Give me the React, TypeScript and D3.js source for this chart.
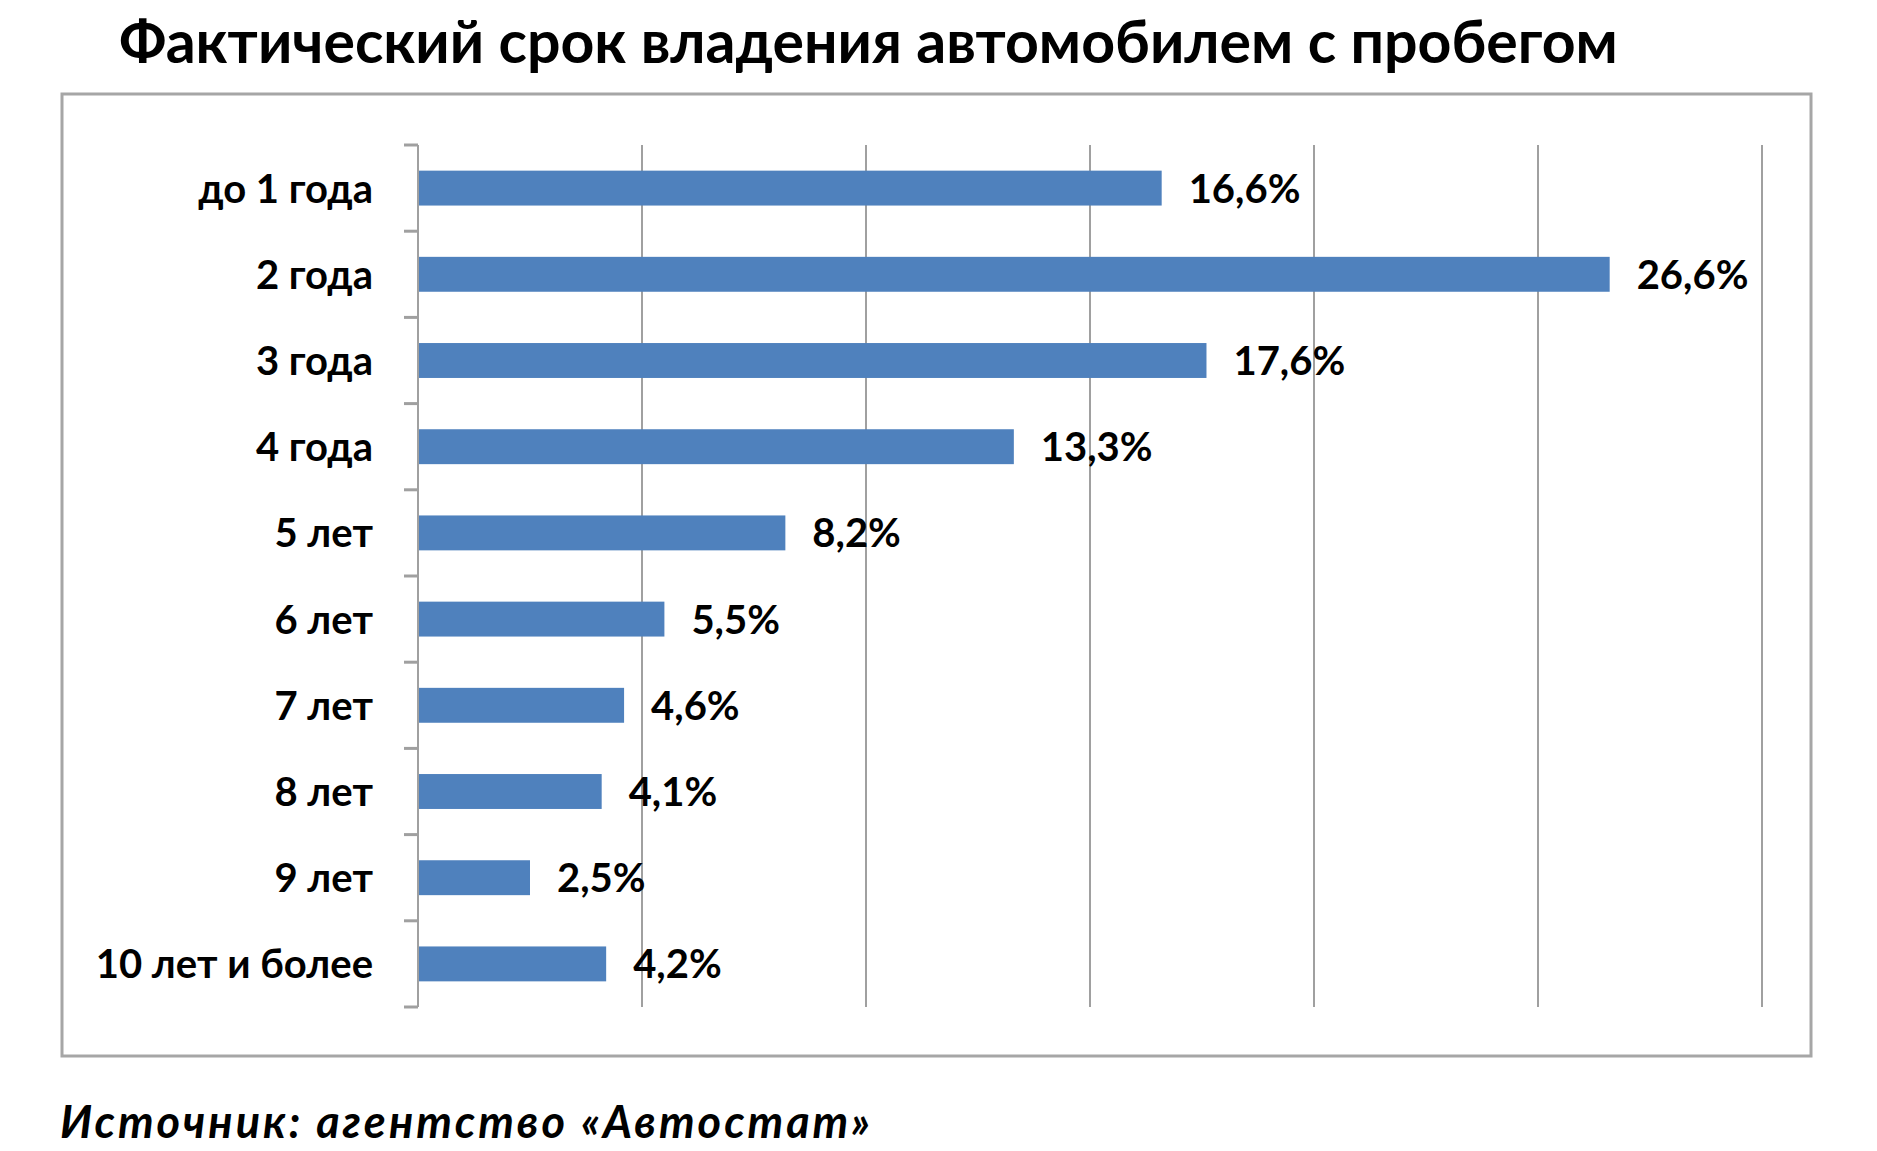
import React, { useEffect, useRef } from 'react';
import { select, scaleLinear, scaleBand, range } from 'd3';

const width = 1877;
const height = 1151;

const title = 'Фактический срок владения автомобилем с пробегом';
const source = 'Источник: агентство «Автостат»';
const categories = [
	'до 1 года',
	'2 года',
	'3 года',
	'4 года',
	'5 лет',
	'6 лет',
	'7 лет',
	'8 лет',
	'9 лет',
	'10 лет и более',
];
const values = [16.6, 26.6, 17.6, 13.3, 8.2, 5.5, 4.6, 4.1, 2.5, 4.2];
const gridTicks = [5, 10, 15, 20, 25, 30];

const font = "Lato, 'Open Sans', sans-serif";
const barColor = '#4F81BD';
const gridColor = '#A0A0A0';

const plot = { left: 418, right: 1762, top: 145, bottom: 1007 };

const fmt = (v: number) => v.toFixed(1).replace('.', ',') + '%';

const App = () => {
	const ref = useRef<SVGSVGElement>(null);

	useEffect(() => {
		if (!ref.current) return;
		const svg = select(ref.current);
		svg.selectAll('*').remove();

		const x = scaleLinear().domain([0, 30]).range([plot.left, plot.right]);
		const y = scaleBand<string>()
			.domain(categories)
			.range([plot.top, plot.bottom])
			.paddingInner(0.595)
			.paddingOuter(0.2975);
		const step = y.step();

		svg.append('rect')
			.attr('width', width)
			.attr('height', height)
			.attr('fill', '#fff');

		// title
		svg.append('text')
			.attr('x', 119)
			.attr('y', 63)
			.attr('font-family', font)
			.attr('font-weight', 700)
			.attr('font-size', 59)
			.attr('fill', '#000')
			.text(title);

		// frame
		svg.append('rect')
			.attr('x', 62)
			.attr('y', 94)
			.attr('width', 1811 - 62)
			.attr('height', 1056 - 94)
			.attr('fill', 'none')
			.attr('stroke', '#A6A6A6')
			.attr('stroke-width', 3);

		// vertical gridlines
		svg.append('g')
			.selectAll('line')
			.data(gridTicks)
			.join('line')
			.attr('x1', (d) => x(d))
			.attr('x2', (d) => x(d))
			.attr('y1', plot.top)
			.attr('y2', plot.bottom)
			.attr('stroke', gridColor)
			.attr('stroke-width', 2);

		// category axis + ticks at band boundaries
		const axis = svg.append('g');
		axis.append('line')
			.attr('x1', x(0))
			.attr('x2', x(0))
			.attr('y1', plot.top)
			.attr('y2', plot.bottom)
			.attr('stroke', gridColor)
			.attr('stroke-width', 2);
		axis.selectAll('line.tick')
			.data(range(categories.length + 1))
			.join('line')
			.attr('class', 'tick')
			.attr('x1', x(0) - 14)
			.attr('x2', x(0))
			.attr('y1', (i) => plot.top + i * step)
			.attr('y2', (i) => plot.top + i * step)
			.attr('stroke', gridColor)
			.attr('stroke-width', 3);

		// bars
		svg.append('g')
			.selectAll('rect')
			.data(values)
			.join('rect')
			.attr('x', x(0) + 1)
			.attr('y', (d, i) => y(categories[i]) as number)
			.attr('width', (d) => x(d) - x(0) - 1)
			.attr('height', y.bandwidth())
			.attr('fill', barColor);

		// value labels
		svg.append('g')
			.selectAll('text')
			.data(values)
			.join('text')
			.attr('x', (d) => x(d) + 27)
			.attr('y', (d, i) => (y(categories[i]) as number) + y.bandwidth() / 2)
			.attr('dy', '0.36em')
			.attr('font-family', font)
			.attr('font-weight', 700)
			.attr('font-size', 40)
			.attr('fill', '#000')
			.text((d) => fmt(d));

		// category labels
		svg.append('g')
			.selectAll('text')
			.data(categories)
			.join('text')
			.attr('x', 373)
			.attr('y', (d) => (y(d) as number) + y.bandwidth() / 2)
			.attr('dy', '0.36em')
			.attr('text-anchor', 'end')
			.attr('font-family', font)
			.attr('font-weight', 700)
			.attr('font-size', 40)
			.attr('fill', '#000')
			.text((d) => d);

		// source
		svg.append('text')
			.attr('x', 60)
			.attr('y', 1138)
			.attr('font-family', font)
			.attr('font-weight', 700)
			.attr('font-style', 'italic')
			.attr('font-size', 45)
			.attr('textLength', 810)
			.attr('lengthAdjust', 'spacing')
			.attr('fill', '#000')
			.text(source);
	}, []);

	return (
		<svg
			ref={ref}
			width={width}
			height={height}
			style={{ position: 'absolute', left: 0, top: 0 }}
		/>
	);
};

export default App;
